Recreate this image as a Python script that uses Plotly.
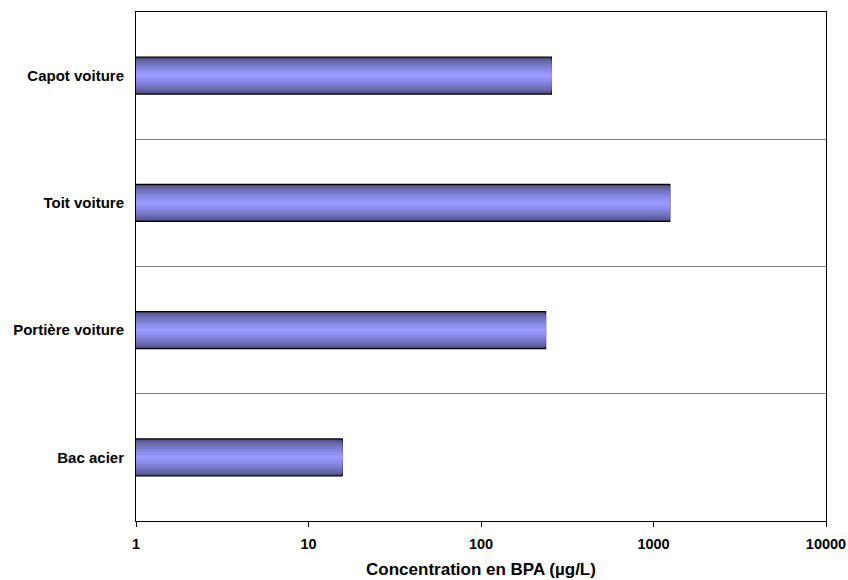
import plotly.graph_objects as go

categories = ["Bac acier", "Portière voiture", "Toit voiture", "Capot voiture"]
values = [15.7, 237, 1243, 256]
tick_vals = [1, 10, 100, 1000, 10000]
tick_text = ["1", "10", "100", "1000", "10000"]

fig = go.Figure()

# Emulate a vertical gradient by overlaying nested bars
n = 14
outer_w = 0.29
dark = (72, 72, 120)
light = (153, 153, 255)
for i in range(n):
    t = i / (n - 1)
    w = outer_w * (1 - t * 0.93)
    c = tuple(int(dark[k] + (light[k] - dark[k]) * (t ** 0.6)) for k in range(3))
    fig.add_trace(go.Bar(
        y=categories, x=values, orientation="h", width=w,
        marker=dict(color=f"rgb{c}",
                    line=dict(color="black", width=1.2 if i == 0 else 0)),
        showlegend=False, hoverinfo="x+y" if i == 0 else "skip",
    ))

font = "Liberation Sans, Arial, sans-serif"
fig.update_layout(
    barmode="overlay",
    width=848, height=580,
    margin=dict(l=136, r=22, t=12, b=59, autoexpand=False),
    plot_bgcolor="white", paper_bgcolor="white",
    font=dict(family=font, color="black"),
    xaxis=dict(
        type="log", range=[0, 4], automargin=False,
        tickvals=tick_vals, ticktext=tick_text,
        tickfont=dict(size=14.5, family=font, weight="bold"),
        ticks="outside", ticklen=5, tickcolor="black",
        ticklabelstandoff=5,
        showgrid=False, zeroline=False,
        showline=True, linecolor="black", linewidth=1, mirror=True,
        title=dict(text="Concentration en BPA (µg/L)",
                   font=dict(size=17, family=font, weight="bold"), standoff=11),
    ),
    yaxis=dict(
        type="category", categoryorder="array", categoryarray=categories,
        tickson="boundaries", ticks="", automargin=False,
        showgrid=True, gridcolor="#808080", gridwidth=1,
        tickfont=dict(size=15, family=font, weight="bold"),
        showline=True, linecolor="black", linewidth=1, mirror=True,
        ticklabelstandoff=8,
    ),
)

fig.write_html("out.html", config={"displayModeBar": False},
               post_script="document.body.style.margin='0';document.body.style.padding='0';")
